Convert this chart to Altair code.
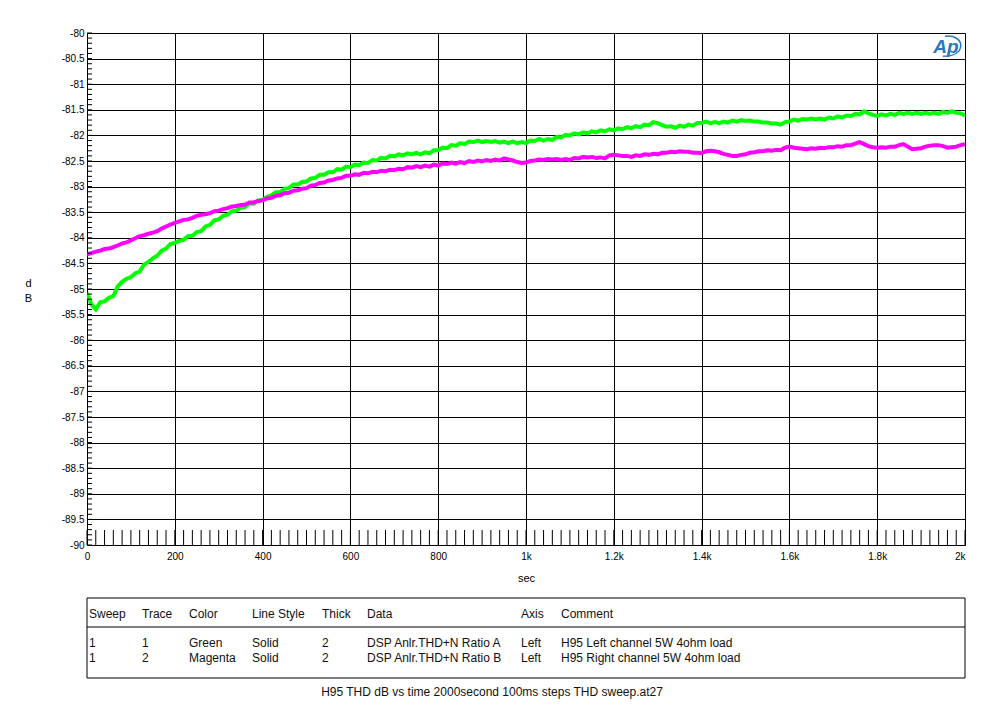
import altair as alt
import pandas as pd

# ---------------- data ----------------
time_s = list(range(0, 2001, 10))

green_db = [
    -85.08, -85.30, -85.40, -85.26, -85.24, -85.17, -85.14, -84.95, -84.86, -84.80,
    -84.77, -84.69, -84.66, -84.52, -84.47, -84.40, -84.35, -84.25, -84.21, -84.12,
    -84.10, -84.06, -84.04, -83.97, -83.96, -83.89, -83.87, -83.78, -83.75, -83.66,
    -83.64, -83.57, -83.55, -83.48, -83.47, -83.41, -83.40, -83.33, -83.33, -83.27,
    -83.26, -83.20, -83.17, -83.11, -83.11, -83.04, -83.03, -82.96, -82.96, -82.91,
    -82.90, -82.84, -82.83, -82.77, -82.77, -82.72, -82.72, -82.66, -82.67, -82.61,
    -82.62, -82.57, -82.58, -82.53, -82.54, -82.48, -82.49, -82.44, -82.45, -82.40,
    -82.41, -82.37, -82.39, -82.35, -82.37, -82.34, -82.37, -82.33, -82.35, -82.29,
    -82.29, -82.24, -82.25, -82.19, -82.20, -82.15, -82.17, -82.12, -82.13, -82.10,
    -82.13, -82.11, -82.13, -82.11, -82.14, -82.12, -82.15, -82.12, -82.15, -82.13,
    -82.15, -82.10, -82.11, -82.07, -82.10, -82.07, -82.09, -82.03, -82.04, -81.99,
    -82.00, -81.96, -81.98, -81.94, -81.96, -81.92, -81.94, -81.90, -81.92, -81.88,
    -81.90, -81.86, -81.88, -81.84, -81.86, -81.82, -81.84, -81.79, -81.80, -81.74,
    -81.76, -81.80, -81.83, -81.82, -81.85, -81.81, -81.83, -81.79, -81.81, -81.76,
    -81.76, -81.73, -81.76, -81.74, -81.76, -81.73, -81.75, -81.71, -81.73, -81.70,
    -81.72, -81.71, -81.73, -81.73, -81.75, -81.75, -81.77, -81.77, -81.79, -81.74,
    -81.73, -81.69, -81.71, -81.68, -81.69, -81.67, -81.69, -81.67, -81.69, -81.65,
    -81.67, -81.63, -81.65, -81.61, -81.62, -81.58, -81.59, -81.53, -81.57, -81.60,
    -81.62, -81.59, -81.61, -81.58, -81.60, -81.56, -81.58, -81.56, -81.58, -81.56,
    -81.58, -81.56, -81.58, -81.56, -81.58, -81.54, -81.56, -81.53, -81.56, -81.57,
    -81.61,
]

magenta_db = [
    -84.32, -84.30, -84.27, -84.25, -84.22, -84.21, -84.18, -84.15, -84.11, -84.09,
    -84.05, -84.01, -83.97, -83.95, -83.92, -83.90, -83.87, -83.82, -83.78, -83.74,
    -83.71, -83.68, -83.65, -83.64, -83.61, -83.57, -83.55, -83.54, -83.52, -83.48,
    -83.47, -83.44, -83.42, -83.39, -83.38, -83.36, -83.35, -83.31, -83.31, -83.28,
    -83.27, -83.23, -83.22, -83.18, -83.17, -83.13, -83.12, -83.08, -83.07, -83.04,
    -83.03, -82.98, -82.97, -82.93, -82.92, -82.88, -82.87, -82.84, -82.83, -82.79,
    -82.79, -82.76, -82.77, -82.73, -82.74, -82.71, -82.72, -82.69, -82.70, -82.67,
    -82.68, -82.65, -82.66, -82.62, -82.63, -82.60, -82.62, -82.59, -82.61, -82.57,
    -82.59, -82.55, -82.56, -82.53, -82.55, -82.52, -82.54, -82.50, -82.52, -82.49,
    -82.51, -82.48, -82.50, -82.47, -82.49, -82.45, -82.47, -82.49, -82.52, -82.54,
    -82.53, -82.50, -82.49, -82.47, -82.48, -82.46, -82.47, -82.46, -82.48, -82.46,
    -82.48, -82.44, -82.45, -82.42, -82.43, -82.42, -82.44, -82.43, -82.45, -82.39,
    -82.38, -82.39, -82.40, -82.40, -82.42, -82.39, -82.40, -82.37, -82.38, -82.36,
    -82.37, -82.34, -82.34, -82.32, -82.33, -82.31, -82.32, -82.32, -82.34, -82.34,
    -82.35, -82.31, -82.30, -82.31, -82.33, -82.36, -82.38, -82.40, -82.40, -82.38,
    -82.37, -82.34, -82.33, -82.31, -82.31, -82.29, -82.30, -82.28, -82.29, -82.24,
    -82.22, -82.24, -82.25, -82.26, -82.27, -82.25, -82.26, -82.24, -82.25, -82.23,
    -82.23, -82.21, -82.22, -82.19, -82.19, -82.16, -82.13, -82.17, -82.21, -82.23,
    -82.24, -82.23, -82.24, -82.22, -82.22, -82.19, -82.17, -82.22, -82.27, -82.26,
    -82.25, -82.22, -82.20, -82.19, -82.19, -82.21, -82.24, -82.23, -82.22, -82.19,
    -82.17,
]

series_names = ["Green", "Magenta"]
series_colors = ["#00ff00", "#ff00ff"]

y_major = [-90 + 0.5 * i for i in range(21)]
y_minor = [round(-90 + 0.1 * i, 1) for i in range(101)]
x_major = list(range(0, 2001, 200))
x_minor = list(range(0, 2001, 20))

table_header = ["Sweep", "Trace", "Color", "Line Style", "Thick", "Data", "Axis", "Comment"]
table_row1 = ["1", "1", "Green", "Solid", "2", "DSP Anlr.THD+N Ratio A", "Left", "H95 Left channel 5W 4ohm load"]
table_row2 = ["1", "2", "Magenta", "Solid", "2", "DSP Anlr.THD+N Ratio B", "Left", "H95 Right channel 5W 4ohm load"]
footer_text = "H95 THD dB vs time 2000second 100ms steps THD sweep.at27"

# ---------------- layout ----------------
W, H = 878, 512
FONT = "Liberation Sans"
LABEL_COLOR = "#1a1a40"
col_x = [2, 55, 102, 165, 235, 280, 434, 474]
row_y = [581, 610, 625]

df = pd.DataFrame({
    "t": time_s * 2,
    "v": green_db + magenta_db,
    "s": ["Green"] * len(time_s) + ["Magenta"] * len(time_s),
})

xscale = alt.Scale(domain=[0, 2000], nice=False, zero=False)
yscale = alt.Scale(domain=[-90, -80], nice=False, zero=False)

x_axis = alt.Axis(values=x_major, grid=True, gridColor="black", gridOpacity=1, gridWidth=1,
                  ticks=False, domain=False, labelPadding=6,
                  labelExpr="datum.value >= 1000 ? (datum.value/1000) + 'k' : datum.value + ''",
                  labelAlign={"condition": {"test": "datum.value >= 2000", "value": "right"}, "value": "center"},
                  title="sec", titleY=36, titleBaseline="alphabetic", titleFontWeight="normal")
y_axis = alt.Axis(values=y_major, grid=True, gridColor="black", gridOpacity=1, gridWidth=1,
                  ticks=False, domain=False, labelPadding=3,
                  labelExpr="datum.value + ''",
                  title=["d", "B"], titleAngle=0, titleX=-59, titleY=244,
                  titleAlign="center", titleBaseline="top", titleLineHeight=15,
                  titleFontWeight="normal")

lines = alt.Chart(df).mark_line(strokeWidth=4, clip=True).encode(
    x=alt.X("t:Q", scale=xscale, axis=x_axis),
    y=alt.Y("v:Q", scale=yscale, axis=y_axis),
    color=alt.Color("s:N", scale=alt.Scale(domain=series_names, range=series_colors), legend=None),
    detail="s:N",
)

ymin_df = pd.DataFrame({"v": y_minor})
yminor = alt.Chart(ymin_df).mark_rule(color="black", strokeWidth=1).encode(
    y=alt.Y("v:Q", scale=yscale, axis=y_axis),
    x=alt.value(0), x2=alt.value(5),
)
xmin_df = pd.DataFrame({"t": x_minor})
xminor = alt.Chart(xmin_df).mark_rule(color="black", strokeWidth=1).encode(
    x=alt.X("t:Q", scale=xscale, axis=x_axis),
    y=alt.value(H - 15), y2=alt.value(H),
)

one = pd.DataFrame({"k": [0]})
box = alt.Chart(one).mark_rect(filled=False, stroke="black", strokeWidth=1).encode(
    x=alt.value(0), x2=alt.value(W), y=alt.value(565), y2=alt.value(645),
)
sep = alt.Chart(one).mark_rule(color="black", strokeWidth=1).encode(
    x=alt.value(0), x2=alt.value(W), y=alt.value(594),
)

cells = []
for r, row in enumerate([table_header, table_row1, table_row2]):
    for c, txt in enumerate(row):
        cells.append(
            alt.Chart(pd.DataFrame({"txt": [txt]})).mark_text(
                align="left", baseline="middle", font=FONT, fontSize=12, color="#111111"
            ).encode(text="txt:N", x=alt.value(col_x[c]), y=alt.value(row_y[r]))
        )

footer = alt.Chart(pd.DataFrame({"txt": [footer_text]})).mark_text(
    align="center", baseline="middle", font=FONT, fontSize=12, color="#111111"
).encode(text="txt:N", x=alt.value(405), y=alt.value(659))

logo_text = alt.Chart(pd.DataFrame({"txt": ["Ap"]})).mark_text(
    align="center", baseline="middle", font=FONT, fontSize=19, fontStyle="italic",
    fontWeight="bold", color="#2a78bf"
).encode(text="txt:N", x=alt.value(859), y=alt.value(14))

logo_arc = alt.Chart(one).mark_point(
    shape="M -0.4 -0.95 C 0.5 -1.1 1.2 -0.6 1.15 0 C 1.1 0.6 0.5 1.0 -0.6 1.0",
    filled=False, stroke="#2a78bf", strokeWidth=1.5, size=420, opacity=1
).encode(x=alt.value(862), y=alt.value(13))

chart = alt.layer(
    lines, yminor, xminor, box, sep, *cells, footer, logo_text, logo_arc
).properties(
    width=W, height=H,
    padding={"left": 87, "top": 33, "right": 25, "bottom": 172},
    autosize=alt.AutoSizeParams(type="none"),
).configure_view(
    stroke="black", strokeWidth=1
).configure_axis(
    labelFont=FONT, labelFontSize=12, labelColor=LABEL_COLOR,
    titleFont=FONT, titleFontSize=12, titleColor=LABEL_COLOR,
).configure(background="white")

chart.save("out.html", embed_options={"renderer": "svg", "actions": False})
